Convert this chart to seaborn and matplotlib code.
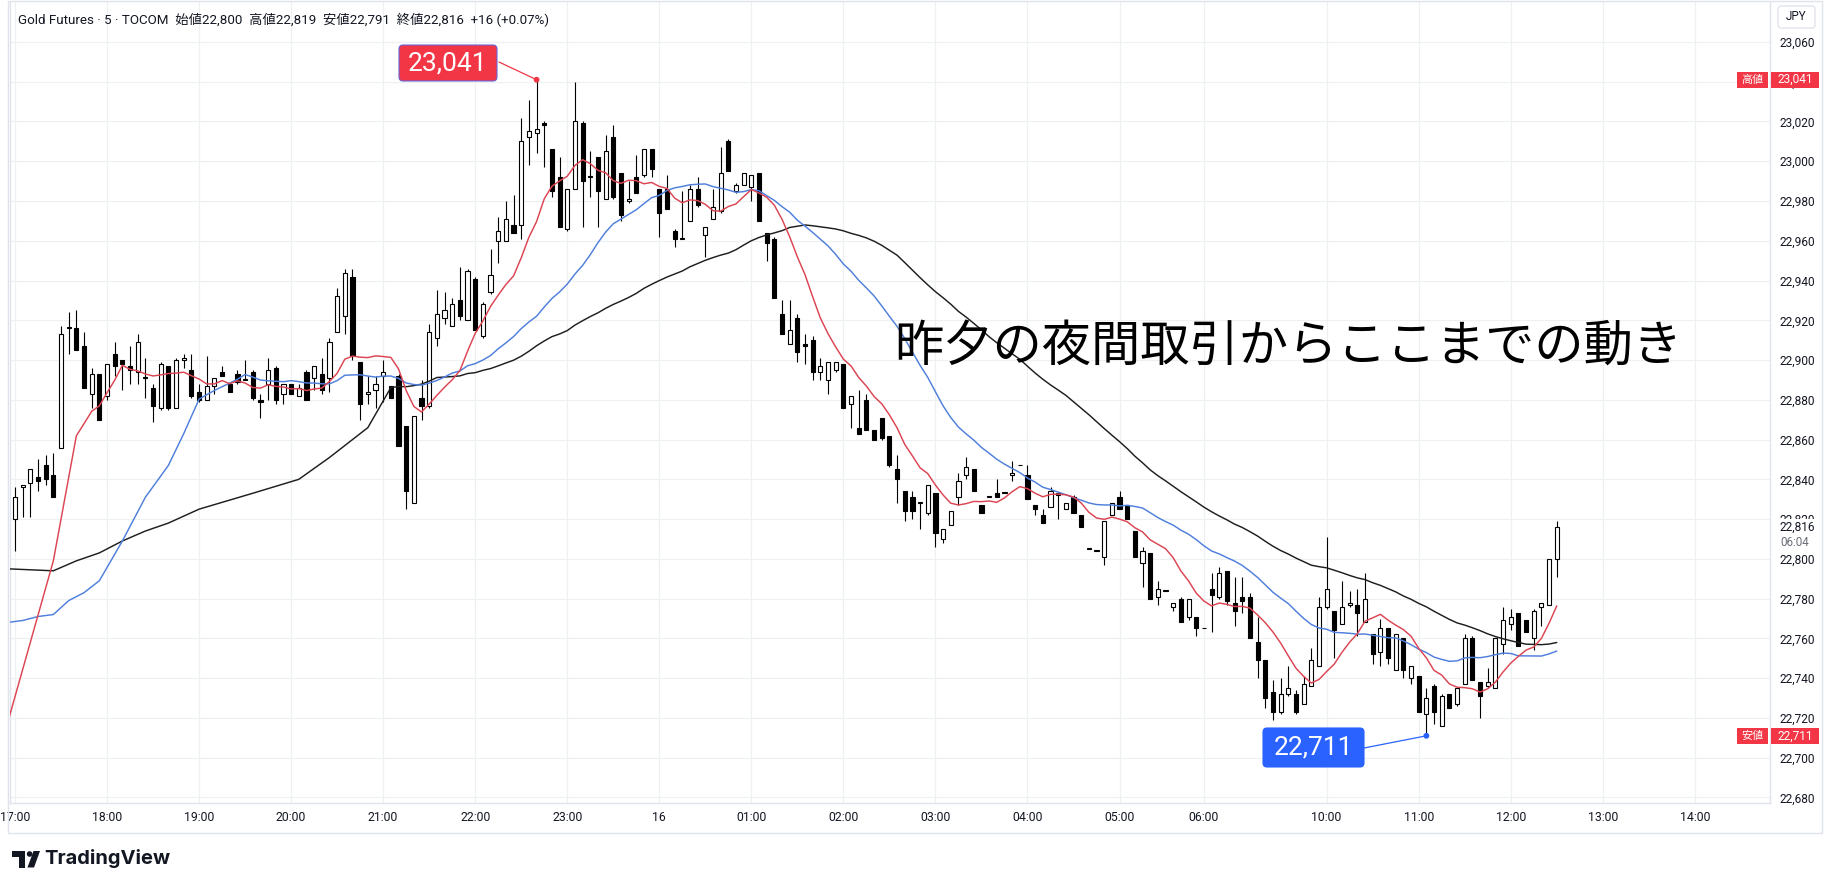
import numpy as np
import pandas as pd
import matplotlib
matplotlib.use("Agg")
import matplotlib.pyplot as plt
import seaborn as sns
from matplotlib import font_manager as fm
from matplotlib.patches import FancyBboxPatch, Rectangle, Polygon, Circle

sns.set_theme(style="white")
avail = {f.name for f in fm.fontManager.ttflist}
def pick(*names):
    r = [n for n in names if n in avail]
    return r if r else ["DejaVu Sans"]
CJK = "Noto Sans CJK JP"
BASE = pick("Roboto", "DejaVu Sans")
plt.rcParams["font.family"] = BASE + [CJK, "DejaVu Sans"]

# ---------------- data (5-minute bars, TOCOM gold) ----------------
opens = [22820,22836,22838,22841,22847,22842,22856,22916,22916,22907,
 22883,22893,22882,22903,22900,22897,22894,22891,22886,22876,
 22897,22876,22900,22895,22884,22880,22887,22894,22888,22893,
 22890,22894,22880,22888,22896,22883,22888,22882,22894,22891,
 22893,22891,22914,22922,22942,22899,22883,22885,22892,22887,
 22892,22867,22828,22881,22877,22911,22921,22917,22930,22920,
 22941,22912,22934,22960,22960,22968,22968,23012,23014,23019,
 23006,22992,22966,22986,23019,22992,23002,22981,23012,22994,
 22980,22992,22993,23006,22986,22986,22965,22961,22970,22986,
 22963,22971,22975,23010,22985,22988,22987,22994,22964,22961,
 22923,22908,22921,22908,22910,22894,22890,22895,22898,22878,
 22866,22880,22865,22871,22862,22845,22834,22831,22828,22823,
 22833,22810,22817,22831,22842,22845,22827,22831,22833,22833,
 22842,22847,22842,22827,22822,22826,22833,22825,22831,22822,
 22805,22804,22801,22822,22831,22827,22814,22798,22803,22781,
 22784,22776,22780,22771,22771,22765,22785,22781,22794,22778,
 22781,22781,22758,22749,22733,22723,22732,22732,22727,22736,
 22746,22776,22774,22767,22777,22777,22768,22762,22753,22765,
 22744,22760,22740,22741,22722,22736,22716,22732,22727,22737,
 22760,22738,22736,22735,22757,22767,22773,22769,22760,22776,
 22777,22800]
highs = [22836,22837,22845,22850,22852,22853,22917,22924,22925,22914,
 22896,22893,22898,22909,22900,22907,22913,22901,22888,22899,
 22897,22901,22903,22903,22888,22902,22891,22897,22888,22895,
 22900,22895,22883,22901,22897,22888,22888,22888,22895,22897,
 22901,22911,22936,22946,22946,22899,22892,22892,22900,22887,
 22893,22867,22872,22890,22918,22935,22934,22931,22947,22946,
 22942,22929,22956,22972,22980,22983,23022,23031,23041,23020,
 23006,23002,22986,23040,23020,23005,23002,23013,23018,22994,
 22990,23003,23006,23006,22986,22993,22966,22985,22988,22992,
 22967,22986,23007,23011,22989,22994,22993,22994,22964,22962,
 22930,22930,22923,22913,22912,22901,22899,22899,22898,22882,
 22885,22883,22865,22871,22862,22852,22834,22834,22828,22837,
 22833,22815,22824,22843,22851,22845,22827,22831,22840,22833,
 22849,22847,22847,22827,22825,22836,22833,22828,22832,22822,
 22805,22804,22819,22828,22834,22827,22814,22806,22803,22789,
 22784,22778,22781,22780,22771,22765,22793,22796,22794,22791,
 22791,22783,22771,22749,22739,22740,22746,22734,22741,22755,
 22781,22811,22774,22789,22784,22785,22793,22762,22770,22765,
 22762,22760,22746,22741,22735,22737,22732,22732,22735,22762,
 22761,22738,22745,22760,22776,22775,22773,22769,22775,22778,
 22800,22819]
lows = [22804,22821,22821,22834,22837,22831,22856,22903,22905,22886,
 22876,22870,22880,22892,22885,22888,22888,22881,22869,22875,
 22875,22876,22896,22881,22879,22880,22883,22892,22884,22888,
 22890,22880,22871,22880,22878,22878,22883,22882,22880,22885,
 22883,22884,22914,22913,22900,22870,22878,22876,22879,22881,
 22857,22825,22828,22870,22876,22907,22918,22917,22920,22920,
 22915,22911,22933,22949,22960,22964,22961,22998,23004,22997,
 22982,22967,22965,22986,22967,22982,22967,22981,22981,22970,
 22979,22984,22992,22992,22962,22976,22957,22961,22970,22977,
 22952,22971,22974,22995,22984,22988,22980,22970,22950,22931,
 22913,22908,22899,22898,22890,22890,22883,22894,22876,22866,
 22863,22865,22860,22860,22846,22828,22819,22820,22815,22822,
 22806,22808,22817,22827,22840,22834,22823,22831,22831,22833,
 22839,22847,22830,22822,22818,22826,22820,22825,22823,22816,
 22805,22804,22797,22822,22825,22820,22801,22786,22780,22777,
 22784,22774,22768,22769,22761,22765,22763,22780,22777,22766,
 22773,22760,22740,22725,22719,22722,22731,22722,22727,22736,
 22746,22775,22750,22767,22776,22761,22768,22747,22746,22747,
 22744,22740,22737,22723,22711,22717,22716,22725,22726,22737,
 22739,22720,22735,22735,22752,22764,22756,22763,22754,22766,
 22777,22791]
closes = [22831,22837,22845,22839,22840,22831,22913,22916,22905,22886,
 22893,22870,22898,22897,22898,22895,22909,22891,22877,22898,
 22876,22900,22901,22882,22880,22887,22891,22892,22884,22889,
 22890,22881,22879,22895,22880,22888,22883,22886,22880,22897,
 22885,22909,22932,22944,22902,22878,22884,22888,22894,22881,
 22857,22834,22872,22877,22914,22923,22925,22928,22922,22945,
 22915,22928,22943,22965,22971,22964,23010,23015,23016,23018,
 22985,22967,22986,23020,22990,22992,22985,23005,22982,22973,
 22981,22984,23006,22996,22974,22976,22961,22961,22986,22978,
 22967,22977,22994,22995,22988,22994,22993,22970,22959,22931,
 22913,22915,22904,22907,22894,22897,22899,22899,22876,22882,
 22863,22865,22860,22861,22847,22840,22824,22824,22828,22837,
 22813,22815,22824,22839,22846,22834,22823,22831,22831,22833,
 22843,22847,22830,22825,22818,22834,22832,22828,22823,22816,
 22805,22804,22819,22828,22825,22820,22801,22804,22780,22785,
 22784,22778,22768,22780,22765,22765,22782,22793,22779,22774,
 22779,22760,22749,22730,22723,22732,22735,22723,22737,22749,
 22776,22785,22764,22776,22778,22773,22780,22752,22765,22750,
 22762,22744,22746,22723,22730,22723,22731,22725,22735,22760,
 22739,22731,22738,22760,22769,22771,22756,22763,22774,22778,
 22800,22816]

red_lead_idx = [-1, 5]
red_lead_val = [22717, 22799]
blue_lead_idx = [-1, 1, 3, 5, 7, 9, 11, 14, 17, 20, 22]
blue_lead_val = [22768, 22769, 22771, 22772, 22779, 22783, 22789, 22809, 22831, 22847, 22863]
black_lead_idx = [-1, 5, 8, 11, 14, 17, 20, 24, 31, 37, 41, 46]
black_lead_val = [22795, 22794, 22799, 22803, 22809, 22814, 22818, 22825, 22833, 22840, 22851, 22866]

tick_idx = [0, 12, 24, 36, 48, 60, 72, 84, 96, 108, 120, 132, 144, 155, 171, 183, 195, 207, 219]
tick_lbl = ["17:00", "18:00", "19:00", "20:00", "21:00", "22:00", "23:00", "16", "01:00",
            "02:00", "03:00", "04:00", "05:00", "06:00", "10:00", "11:00", "12:00", "13:00", "14:00"]
price_ticks = list(range(22680, 23061, 20))

header = "Gold Futures · 5 · TOCOM  始値22,800  高値22,819  安値22,791  終値22,816  +16 (+0.07%)"
big_text = "昨夕の夜間取引からここまでの動き"
high_val, high_idx = 23041, 68
low_val, low_idx = 22711, 184
last_price = 22816
countdown = "06:04"

# ---------------- figure ----------------
W, H = 1828, 889
fig = plt.figure(figsize=(W / 100, H / 100), dpi=100)
fig.patch.set_facecolor("white")
ax = fig.add_axes([10 / W, 1 - 803 / H, (1770 - 10) / W, (803 - 2) / H])
ax.set_facecolor("white")
ax.set_xlim(-0.65, 228.8)
ax.set_ylim(22677.2, 23080.1)

TXT = "#131722"
GRID = "#eef0f3"
ax.set_xticks(tick_idx)
ax.set_xticklabels(tick_lbl)
ax.set_yticks(price_ticks)
ax.set_yticklabels([f"{v:,}" for v in price_ticks])
ax.yaxis.tick_right()
ax.tick_params(axis="y", length=0, pad=7, labelsize=8.6, labelcolor=TXT)
ax.tick_params(axis="x", length=0, pad=6, labelsize=8.8, labelcolor=TXT)
ax.grid(True, color=GRID, linewidth=0.9)
ax.set_axisbelow(True)
ax.spines["top"].set_visible(False)
for s in ["left", "right", "bottom"]:
    ax.spines[s].set_color("#e0e3eb")
    ax.spines[s].set_linewidth(1.0)

# candles
idx = np.arange(len(closes))
o = np.array(opens, float); h = np.array(highs, float)
l = np.array(lows, float); c = np.array(closes, float)
up = c >= o
bw = 0.54
ax.vlines(idx, l, h, color="black", linewidth=0.8, zorder=2)
bot = np.minimum(o, c)
hgt = np.maximum(np.abs(c - o), 0.45)
ax.bar(idx[up], hgt[up], bottom=bot[up], width=bw, color="white",
       edgecolor="black", linewidth=0.8, zorder=3)
ax.bar(idx[~up], hgt[~up], bottom=bot[~up], width=bw, color="black",
       edgecolor="black", linewidth=0.8, zorder=3)

# moving averages (9 / 25 / 50 bar simple averages)
s = pd.Series(closes, dtype=float)
def ma_line(period, lead_idx, lead_val):
    m = s.rolling(period).mean()
    start = period - 1
    xs = list(lead_idx) + list(range(start, len(s)))
    ys = list(lead_val) + list(m.iloc[start:])
    return pd.DataFrame({"x": xs, "y": ys})

for period, li, lv, col in [(50, black_lead_idx, black_lead_val, "#1e1e1e"),
                            (25, blue_lead_idx, blue_lead_val, "#4f7fdc"),
                            (9, red_lead_idx, red_lead_val, "#dc4452")]:
    df = ma_line(period, li, lv)
    sns.lineplot(data=df, x="x", y="y", ax=ax, color=col, linewidth=1.05,
                 estimator=None, sort=False, zorder=4)
ax.set_xlabel(""); ax.set_ylabel("")
ax.set_xlim(-0.65, 228.8)
ax.set_ylim(22677.2, 23080.1)

# ---------------- overlay in pixel coordinates ----------------
ov = fig.add_axes([0, 0, 1, 1], zorder=10)
ov.set_xlim(0, W); ov.set_ylim(H, 0)
ov.axis("off")

def to_px(x, y):
    dx, dy = ax.transData.transform((x, y))
    return dx, H - dy

# outer frame
ov.add_patch(Rectangle((8, 0.5), 1814, 832, fill=False, edgecolor="#e0e3eb", linewidth=1.0))

# header
ov.text(18, 20, header, fontsize=9.6, color=TXT, va="center", ha="left",
        family=pick("Liberation Sans Narrow", "Roboto") + [CJK, "DejaVu Sans"])

# high label
RED = "#f23645"; BLUE = "#2962ff"
hx, hy = to_px(high_idx, high_val)
ov.plot([499, hx], [62, hy], color=RED, linewidth=0.9)
ov.add_patch(Circle((hx, hy), 2.2, color=RED))
ov.add_patch(FancyBboxPatch((399, 45), 98, 36, boxstyle="round,pad=0,rounding_size=4",
                            facecolor=RED, edgecolor="#6a63d8", linewidth=0.8))
ov.text(448, 63.5, f"{high_val:,}", color="white", fontsize=19, ha="center", va="center")

# low label
lx, ly = to_px(low_idx, low_val)
ov.plot([1364, lx], [748, ly], color=BLUE, linewidth=0.9)
ov.add_patch(Circle((lx, ly), 2.2, color=BLUE))
ov.add_patch(FancyBboxPatch((1263, 728), 101, 39, boxstyle="round,pad=0,rounding_size=4",
                            facecolor=BLUE, edgecolor=BLUE, linewidth=0.8))
ov.text(1313.5, 748, f"{low_val:,}", color="white", fontsize=19, ha="center", va="center")

# big caption
ov.text(1288, 347, big_text, fontsize=35.5, color="black", ha="center", va="center",
        family=[CJK, "DejaVu Sans"])

# price-axis tags
def tag(y, name, val):
    ov.add_patch(Rectangle((1737, y - 8), 31, 16, facecolor=RED, edgecolor="none"))
    ov.add_patch(Rectangle((1771, y - 8), 48, 16, facecolor=RED, edgecolor="none"))
    ov.text(1752.5, y, name, color="white", fontsize=8, ha="center", va="center",
            family=[CJK, "DejaVu Sans"])
    ov.text(1795, y, f"{val:,}", color="white", fontsize=8.6, ha="center", va="center")
_, ty = to_px(0, high_val)
tag(ty, "高値", high_val)
_, ty = to_px(0, low_val)
tag(ty, "安値", low_val)

# current price label (sits over the 22,820 tick as in the original)
_, cy = to_px(0, last_price)
ov.add_patch(Rectangle((1772, cy - 8), 49, 32, facecolor="white", edgecolor="none"))
ov.text(1780, cy + 0.5, f"{last_price:,}", color=TXT, fontsize=8.6, ha="left", va="center")
ov.text(1780, cy + 15.5, countdown, color="#6a6d78", fontsize=8.4, ha="left", va="center")

# currency box
ov.add_patch(FancyBboxPatch((1778, 6), 37, 22, boxstyle="round,pad=0,rounding_size=3",
                            facecolor="white", edgecolor="#e0e3eb", linewidth=1.0))
ov.text(1796.5, 17, "JPY", color=TXT, fontsize=8.4, ha="center", va="center")

# TradingView logo
ov.add_patch(Rectangle((12, 851), 13, 5.5, facecolor=TXT, edgecolor="none"))
ov.add_patch(Rectangle((19, 851), 6, 16.5, facecolor=TXT, edgecolor="none"))
ov.add_patch(Circle((29.6, 854), 2.8, facecolor=TXT, edgecolor="none"))
ov.add_patch(Polygon([(33.5, 851), (40, 851), (34, 867.5), (27.5, 867.5)], closed=True,
                     facecolor=TXT, edgecolor="none"))
ov.text(44, 859, "TradingView", color=TXT, fontsize=14.5, fontweight="bold",
        ha="left", va="center", family=pick("Inter", "Roboto", "DejaVu Sans"))

fig.savefig("out.png", dpi=100, facecolor="white")
